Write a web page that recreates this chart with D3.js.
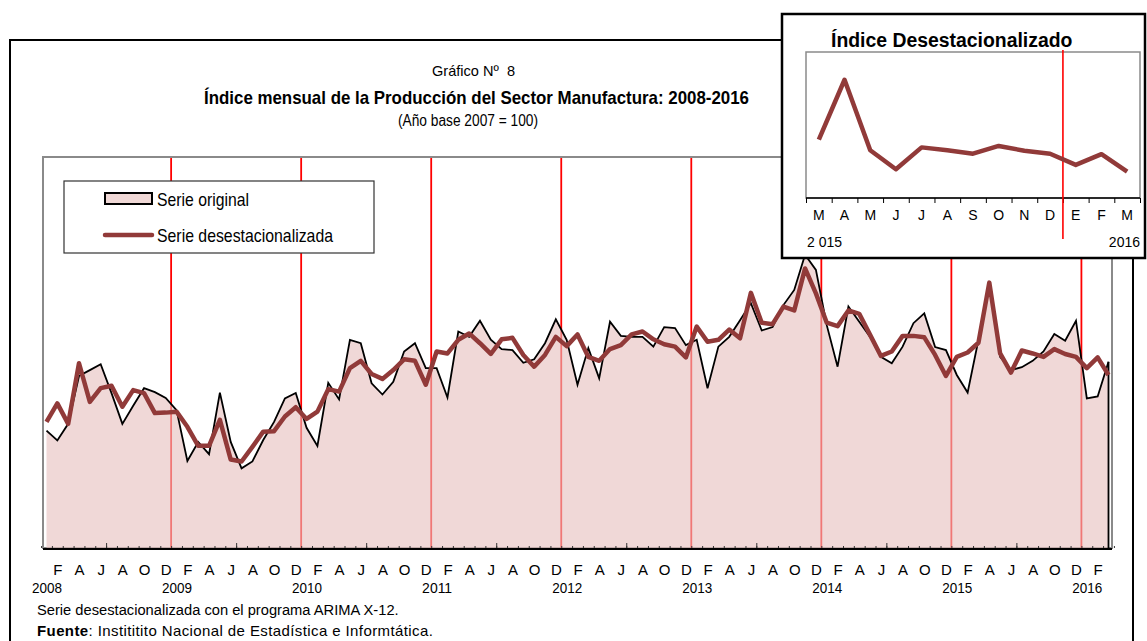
<!DOCTYPE html>
<meta charset="utf-8">
<script src="https://d3js.org/d3.v7.min.js"></script>
<style>
  body { margin: 0; background: #fff; }
</style>
<div id="chart"></div>
<script>
  // data (index, base 2007 = 100), Jan 2008 .. Mar 2016
  var meses = ["E", "F", "M", "A", "M", "J", "J", "A", "S", "O", "N", "D"];
  var anios = ["2008", "2009", "2010", "2011", "2012", "2013", "2014", "2015", "2016"];

  var original = [
    94.0, 92.0, 95.4, 105.2, 106.4, 107.6, 101.7, 95.4, 99.1, 102.7, 101.9, 100.7,
    98.2, 87.8, 91.7, 89.2, 101.8, 91.7, 86.3, 87.7, 92.1, 95.8, 100.6, 101.7,
    94.6, 90.9, 103.8, 100.4, 112.6, 111.9, 103.7, 101.4, 104.0, 110.2, 111.9, 106.8,
    106.8, 100.8, 114.3, 113.2, 116.5, 112.6, 110.7, 110.5, 107.9, 108.6, 111.9, 116.8,
    112.6, 103.4, 110.9, 104.7, 116.3, 113.4, 113.2, 113.2, 111.2, 115.2, 115.0, 111.5,
    112.6, 102.7, 111.2, 113.2, 116.6, 120.1, 114.5, 115.2, 119.7, 122.8, 130.0, 126.9,
    115.6, 107.1, 119.4, 116.3, 113.2, 109.1, 107.8, 111.2, 116.0, 118.0, 111.1, 110.5,
    105.4, 101.8, 112.6, 124.2, 109.1, 106.4, 107.0, 108.3, 110.2, 113.8, 112.4, 116.5,
    100.6, 101.0, 108.1
  ];
  var desest = [
    95.8, 99.6, 95.4, 107.8, 99.9, 102.7, 103.2, 98.9, 102.3, 101.7, 97.6, 97.7,
    97.9, 94.8, 90.9, 90.9, 96.2, 88.1, 87.7, 90.7, 93.8, 93.9, 96.9, 98.8,
    96.4, 97.9, 102.5, 102.0, 106.8, 108.3, 105.6, 104.6, 106.4, 108.6, 108.3, 103.4,
    110.2, 109.8, 112.6, 113.9, 111.9, 109.7, 112.7, 113.0, 109.5, 107.1, 109.5, 113.2,
    111.3, 113.7, 109.1, 108.3, 110.7, 111.5, 113.7, 114.3, 112.7, 111.7, 111.2, 109.0,
    115.3, 112.2, 112.6, 114.7, 112.9, 122.2, 116.1, 115.8, 119.4, 118.6, 127.2, 122.1,
    116.1, 115.4, 118.6, 117.9, 113.6, 109.3, 110.2, 113.4, 113.4, 113.1, 109.5, 105.2,
    109.1, 110.0, 112.0, 124.3, 109.8, 105.9, 110.4, 109.8, 109.1, 110.7, 109.7, 109.1,
    106.8, 109.0, 105.4
  ];

  var insetMeses = ["M", "A", "M", "J", "J", "A", "S", "O", "N", "D", "E", "F", "M"];
  var insetAnios = ["2 015", "2016"];
  var insetSerie = desest.slice(-13);

  var font = "'Liberation Sans',Arial,sans-serif";
  var rojo = "#913a39";

  var svg = d3.select("#chart")
    .append("svg")
    .attr("width", 1147)
    .attr("height", 641);

  // condensed look: squeeze text to the width seen in the picture
  function narrowText(sel, width) {
    sel.attr("textLength", width).attr("lengthAdjust", "spacingAndGlyphs");
  }

  // outer frame
  svg.append("rect")
    .attr("x", 10).attr("y", 40)
    .attr("width", 1123).attr("height", 700)
    .style("fill", "#fff")
    .style("stroke", "#000")
    .style("stroke-width", 2);

  // titles
  svg.append("text").attr("x", 432).attr("y", 76)
    .style("font-family", font).style("font-size", "15px")
    .style("white-space", "pre")
    .text("Gráfico Nº  8")
    .call(narrowText, 83);
  svg.append("text").attr("x", 204).attr("y", 104)
    .style("font-family", font).style("font-size", "19px").style("font-weight", "bold")
    .text("Índice mensual de la Producción del Sector Manufactura: 2008-2016")
    .call(narrowText, 545);
  svg.append("text").attr("x", 398).attr("y", 126)
    .style("font-family", font).style("font-size", "16px")
    .text("(Año base 2007 = 100)")
    .call(narrowText, 140);

  // main plot
  var plot = { left: 43, top: 157, right: 1112, bottom: 548 };
  var x = d3.scaleLinear().domain([0, original.length - 1]).range([46.5, 1108.5]);
  var y = d3.scaleLinear().domain([70, 150]).range([plot.bottom, plot.top]);

  svg.append("rect")
    .attr("x", plot.left).attr("y", plot.top)
    .attr("width", plot.right - plot.left).attr("height", plot.bottom - plot.top)
    .style("fill", "#fff")
    .style("stroke", "#8a8a8a")
    .style("stroke-width", 2);

  // red year separators
  var cortes = d3.range(1, anios.length).map(function (k) { return 12 * k - 0.5; });
  svg.append("g").selectAll("line")
    .data(cortes)
    .enter().append("line")
    .attr("x1", function (d) { return x(d); })
    .attr("x2", function (d) { return x(d); })
    .attr("y1", plot.top + 1).attr("y2", plot.bottom)
    .style("stroke", "#ff0000")
    .style("stroke-width", 1.8);

  // original series as area
  var area = d3.area()
    .x(function (d, i) { return x(i); })
    .y0(y(70))
    .y1(function (d) { return y(d); });
  svg.append("path")
    .datum(original)
    .attr("d", area)
    .style("fill", "rgb(231,192,190)")
    .style("fill-opacity", 0.62);

  var line = d3.line()
    .x(function (d, i) { return x(i); })
    .y(function (d) { return y(d); });
  svg.append("path")
    .datum(original)
    .attr("d", line)
    .style("fill", "none")
    .style("stroke", "#000")
    .style("stroke-width", 1.8);
  var last = original.length - 1;
  svg.append("line")
    .attr("x1", x(last)).attr("x2", x(last))
    .attr("y1", y(original[last])).attr("y2", y(70))
    .style("stroke", "#000")
    .style("stroke-width", 1.8);

  // seasonally adjusted series
  svg.append("path")
    .datum(desest)
    .attr("d", line)
    .style("fill", "none")
    .style("stroke", rojo)
    .style("stroke-width", 4.5)
    .style("stroke-linejoin", "round");

  // x axis
  svg.append("line")
    .attr("x1", plot.left).attr("x2", plot.right)
    .attr("y1", plot.bottom + 1).attr("y2", plot.bottom + 1)
    .style("stroke", "#000").style("stroke-width", 2);

  var gTicks = svg.append("g")
    .attr("transform", "translate(0," + plot.bottom + ")")
    .call(d3.axisBottom(x)
      .tickValues(d3.range(-0.5, original.length, 1))
      .tickSize(-2).tickFormat(""));
  var gMid = svg.append("g")
    .attr("transform", "translate(0," + plot.bottom + ")")
    .call(d3.axisBottom(x)
      .tickValues(d3.range(5.5, original.length, 12))
      .tickSize(-5).tickFormat(""));
  [gTicks, gMid].forEach(function (g) {
    g.select(".domain").remove();
    g.selectAll("line").style("stroke", "#333");
  });

  var gMeses = svg.append("g")
    .attr("transform", "translate(0," + plot.bottom + ")")
    .call(d3.axisBottom(x)
      .tickValues(d3.range(1, original.length, 2))
      .tickSize(0).tickPadding(16)
      .tickFormat(function (d) { return meses[d % 12]; }));
  var gAnios = svg.append("g")
    .attr("transform", "translate(0," + plot.bottom + ")")
    .call(d3.axisBottom(x)
      .tickValues(d3.range(0, original.length, 12))
      .tickSize(0).tickPadding(34)
      .tickFormat(function (d) { return anios[d / 12]; }));
  [gMeses, gAnios].forEach(function (g) {
    g.select(".domain").remove();
    g.selectAll("text")
      .style("font-family", font)
      .style("font-size", "15px")
      .style("fill", "#000");
  });
  gAnios.selectAll("text").call(narrowText, 30);

  // legend
  var leg = svg.append("g");
  leg.append("rect")
    .attr("x", 64).attr("y", 181).attr("width", 310).attr("height", 72)
    .style("fill", "#fff").style("stroke", "#333").style("stroke-width", 1.2);
  leg.append("rect")
    .attr("x", 105).attr("y", 193).attr("width", 47).attr("height", 11)
    .style("fill", "rgb(240,216,214)").style("stroke", "#000").style("stroke-width", 2);
  leg.append("text").attr("x", 157).attr("y", 206)
    .style("font-family", font).style("font-size", "19px")
    .text("Serie original")
    .call(narrowText, 92);
  leg.append("line")
    .attr("x1", 105).attr("x2", 152).attr("y1", 235).attr("y2", 235)
    .style("stroke", rojo).style("stroke-width", 4.5).style("stroke-linecap", "round");
  leg.append("text").attr("x", 157).attr("y", 242)
    .style("font-family", font).style("font-size", "19px")
    .text("Serie desestacionalizada")
    .call(narrowText, 176);

  // footer notes
  svg.append("text").attr("x", 37).attr("y", 615)
    .style("font-family", font).style("font-size", "14.7px")
    .text("Serie desestacionalizada con el programa ARIMA X-12.");
  var fuente = svg.append("text").attr("x", 37).attr("y", 636)
    .style("font-family", font).style("font-size", "15px")
    .style("letter-spacing", "0.4px");
  fuente.append("tspan").style("font-weight", "bold").text("Fuente");
  fuente.append("tspan").text(": Instititito Nacional de Estadística e Informtática.");

  // inset: last 13 months
  var ins = svg.append("g");
  ins.append("rect")
    .attr("x", 782).attr("y", 14).attr("width", 363).attr("height", 244)
    .style("fill", "#fff").style("stroke", "#000").style("stroke-width", 2.5);
  ins.append("text").attr("x", 831).attr("y", 47)
    .style("font-family", font).style("font-size", "19.4px").style("font-weight", "bold")
    .text("Índice Desestacionalizado");

  var ip = { left: 806, top: 52, right: 1140, bottom: 198 };
  var ix = d3.scaleBand().domain(d3.range(insetMeses.length)).range([ip.left, ip.right]);
  var iy = d3.scaleLinear().domain([100, 130]).range([ip.bottom, ip.top]);
  var ib = d3.scaleLinear().domain([0, insetMeses.length]).range([ip.left, ip.right]);

  ins.append("rect")
    .attr("x", ip.left).attr("y", ip.top)
    .attr("width", ip.right - ip.left).attr("height", ip.bottom - ip.top)
    .style("fill", "#fff").style("stroke", "#8a8a8a").style("stroke-width", 1.5);

  var gIT = ins.append("g")
    .attr("transform", "translate(0," + ip.bottom + ")")
    .call(d3.axisBottom(ib).tickValues(d3.range(insetMeses.length + 1)).tickSize(5).tickFormat(""));
  gIT.select(".domain").attr("d", "M" + ip.left + ",0H" + ip.right).style("stroke", "#000").style("stroke-width", 1.5);
  gIT.selectAll("line").style("stroke", "#000");

  var gIM = ins.append("g")
    .attr("transform", "translate(0," + ip.bottom + ")")
    .call(d3.axisBottom(ix).tickSize(0).tickPadding(12)
      .tickFormat(function (d) { return insetMeses[d]; }));
  gIM.select(".domain").remove();
  gIM.selectAll("text")
    .style("font-family", font).style("font-size", "14px").style("fill", "#000");

  ins.append("text").attr("x", 807).attr("y", 247)
    .style("font-family", font).style("font-size", "14px")
    .text(insetAnios[0]);
  ins.append("text").attr("x", 1140).attr("y", 247)
    .attr("text-anchor", "end")
    .style("font-family", font).style("font-size", "14px")
    .text(insetAnios[1]);

  ins.append("line")
    .attr("x1", ib(10)).attr("x2", ib(10))
    .attr("y1", 50).attr("y2", 239)
    .style("stroke", "#ff0000").style("stroke-width", 1.6);

  ins.append("path")
    .datum(insetSerie)
    .attr("d", d3.line()
      .x(function (d, i) { return ix(i) + ix.bandwidth() / 2; })
      .y(function (d) { return iy(d); }))
    .style("fill", "none")
    .style("stroke", rojo)
    .style("stroke-width", 4.5)
    .style("stroke-linejoin", "round");
</script>
